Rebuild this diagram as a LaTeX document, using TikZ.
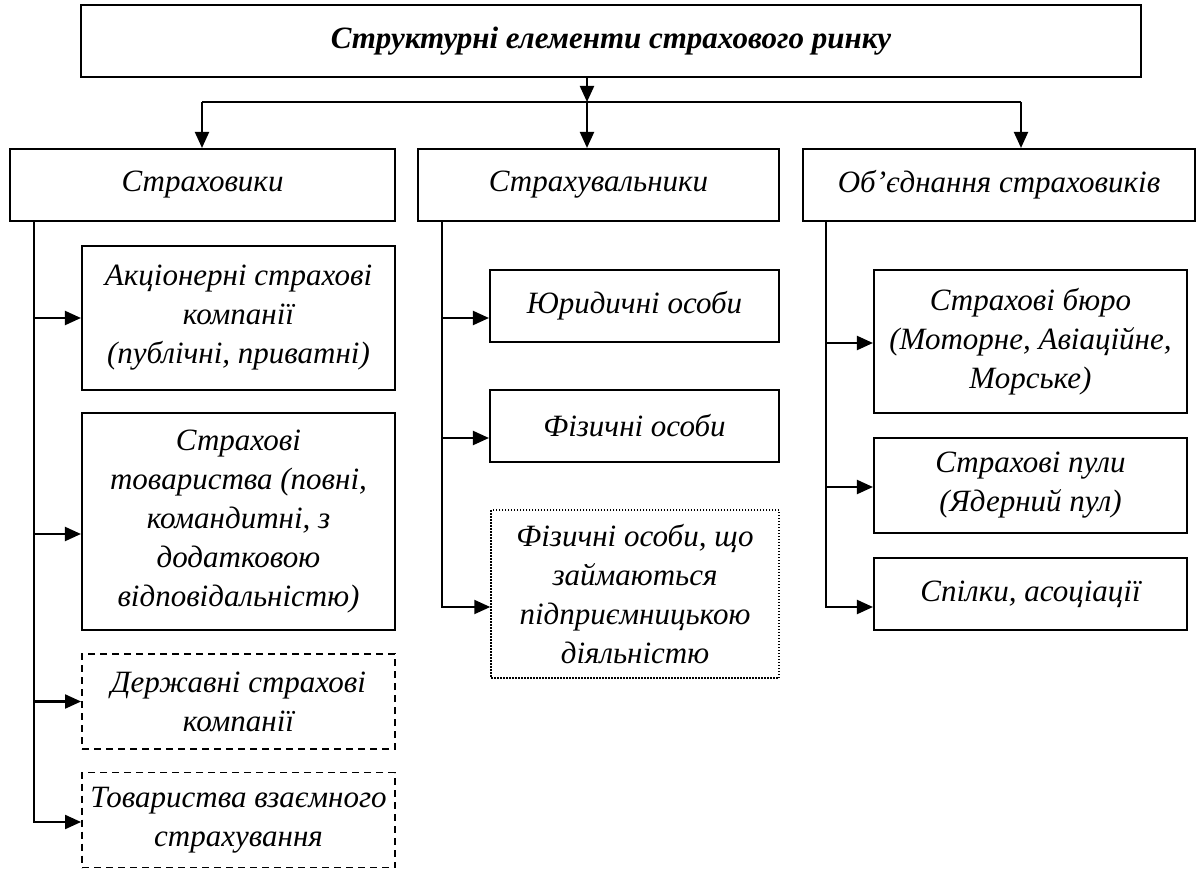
\documentclass[tikz,border=0pt]{standalone}
\usepackage{fontspec}
\setmainfont{Liberation Serif}
\usetikzlibrary{arrows.meta,calc}
\tikzset{
  box/.style={draw, line width=2.1pt, align=center, inner sep=0pt,
    font=\fontsize{31}{39}\selectfont\itshape},
  dashbox/.style={box, line width=1.9pt, dash pattern=on 7pt off 5pt},
  dotbox/.style={box, line width=1.5pt, dash pattern=on 1.5pt off 1.5pt},
  conn/.style={line width=2.1pt},
  arr/.style={line width=2.1pt, -{Triangle[length=16pt,width=14pt]}}
}
\begin{document}
\begin{tikzpicture}[x=1pt,y=-1pt]
\useasboundingbox (0,0) rectangle (1203,869);

\node[box, minimum width=1060pt, minimum height=72pt] (top) at (611,41)
  {\bfseries Структурні елементи страхового ринку};

\node[box, minimum width=385pt, minimum height=72pt] (A) at (202.5,185) {Страховики};
\node[box, minimum width=361pt, minimum height=72pt] (B) at (598.5,185) {Страхувальники};
\node[box, minimum width=392pt, minimum height=72pt] (C) at (999,185) {Об’єднання страховиків};

\node[box, minimum width=313pt, minimum height=144pt] (A1) at (238.5,318)
  {Акціонерні страхові\\компанії\\(публічні, приватні)};
\node[box, minimum width=313pt, minimum height=217pt] (A2) at (238.5,521.5)
  {Страхові\\товариства (повні,\\командитні, з\\додатковою\\відповідальністю)};
\node[dashbox, minimum width=313pt, minimum height=95pt] (A3) at (238.5,701.5)
  {Державні страхові\\компанії};
\node[dashbox, minimum width=313pt, minimum height=95pt] (A4) at (238.5,820)
  {Товариства взаємного\\страхування};

\node[box, minimum width=289pt, minimum height=72pt] (B1) at (634.5,306) {Юридичні особи};
\node[box, minimum width=289pt, minimum height=72pt] (B2) at (634.5,426) {Фізичні особи};
\node[dotbox, minimum width=288pt, minimum height=168pt] (B3) at (635,594)
  {Фізичні особи, що\\займаються\\підприємницькою\\діяльністю};

\node[box, minimum width=313pt, minimum height=143pt] (C1) at (1030.5,341.5)
  {Страхові бюро\\(Моторне, Авіаційне,\\Морське)};
\node[box, minimum width=313pt, minimum height=95pt] (C2) at (1030.5,485.5)
  {Страхові пули\\(Ядерний пул)};
\node[box, minimum width=313pt, minimum height=72pt] (C3) at (1030.5,594)
  {Спілки, асоціації};

% top connectors
\coordinate (barL) at (202,102);
\coordinate (barM) at (587,102);
\coordinate (barR) at (1021,102);
\draw[conn] (barL) -- (barR);
\draw[arr] (top.south -| barM) -- (barM);
\draw[arr] (barL) -- (A.north -| barL);
\draw[arr] (barM) -- (B.north -| barM);
\draw[arr] (barR) -- (C.north -| barR);

% left column
\coordinate (tA) at ([xshift=25pt]A.south west);
\draw[arr] (tA) |- (A1.west);
\draw[arr] (tA) |- ($(A2.west)+(0,12.5)$);
\draw[arr] (tA) |- (A3.west);
\draw[arr] (tA) |- ($(A4.west)+(0,2)$);

% middle column
\coordinate (tB) at ([xshift=25pt]B.south west);
\draw[arr] (tB) |- ($(B1.west)+(0,12)$);
\draw[arr] (tB) |- ($(B2.west)+(0,12)$);
\draw[arr] (tB) |- ($(B3.west)+(0,13)$);

% right column
\coordinate (tC) at ([xshift=24pt]C.south west);
\draw[arr] (tC) |- ($(C1.west)+(0,1.5)$);
\draw[arr] (tC) |- ($(C2.west)+(0,1.5)$);
\draw[arr] (tC) |- ($(C3.west)+(0,13)$);
\end{tikzpicture}
\end{document}
